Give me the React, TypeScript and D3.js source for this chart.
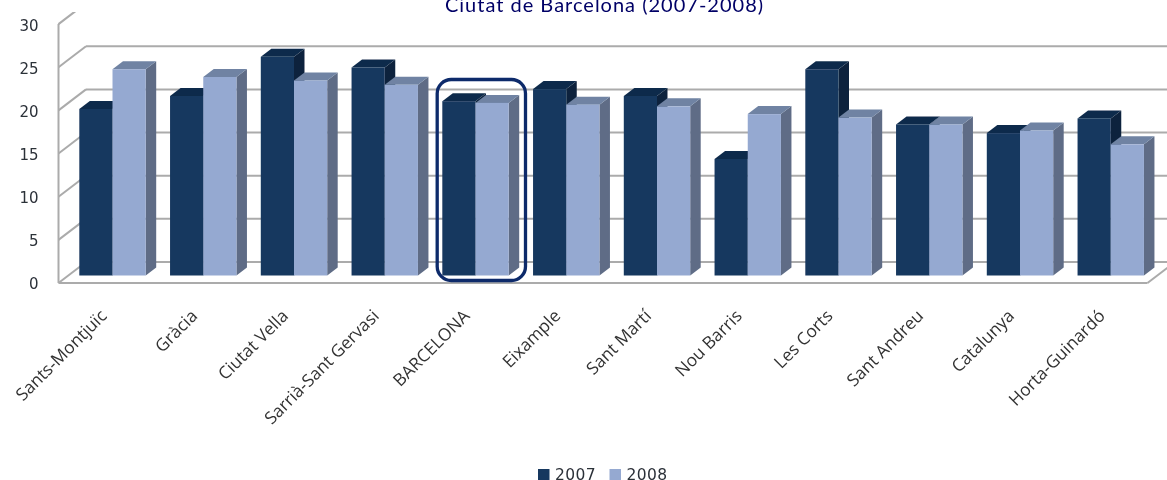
import React from "react";
import * as d3 from "d3";

const categories = ["Sants-Montjuïc","Gràcia","Ciutat Vella","Sarrià-Sant Gervasi","BARCELONA","Eixample","Sant Martí","Nou Barris","Les Corts","Sant Andreu","Catalunya","Horta-Guinardó"];
const values2007 = [19.3,20.8,25.35,24.1,20.2,21.6,20.8,13.5,23.9,17.5,16.5,18.2];
const values2008 = [23.9,23.0,22.6,22.1,20.0,19.8,19.6,18.7,18.3,17.5,16.8,15.2];
const yTicks = [0,5,10,15,20,25,30];
const seriesNames = ["2007","2008"];
const highlighted = "BARCELONA";

const palette = [
  { front: "#17375E", top: "#112B4B", side: "#0F243E" },
  { front: "#95A9D1", top: "#6F83A3", side: "#5E6C86" },
];

const W = 1167, H = 480;
const barW = 33.2;
const depthBar = { dx: 10.5, dy: -8 };
const depthWall = { dx: 27.5, dy: -21 };
const FRONT_X = 58.5, FRONT_Y = 283, RIGHT_X = 1147.5;

const yFront = d3.scaleLinear().domain([0, 30]).range([FRONT_Y, FRONT_Y - 258.9]);
const yLabel = d3.scaleLinear().domain([0, 30]).range([283, 25.6]);
const yBar = d3.scaleLinear().domain([0, 30]).range([275.5, 275.5 - 258.9]);
const xBand = d3.scaleBand<string>().domain(categories).range([79.3, 79.3 + 90.75 * 12]).paddingInner(0).paddingOuter(0);

const poly = (pts: [number, number][]) => d3.line()(pts) + "Z";
const LABEL = "'Open Sans', sans-serif";
const NUM = "'DejaVu Sans', sans-serif";

function Bar({ x, v, c }: { x: number; v: number; c: typeof palette[0] }) {
  const t = yBar(v), b = yBar(0), { dx, dy } = depthBar, r = x + barW;
  return (
    <g>
      <path d={poly([[r, t], [r + dx, t + dy], [r + dx, b + dy], [r, b]])} fill={c.side} />
      <path d={poly([[x, t], [x + dx, t + dy], [r + dx, t + dy], [r, t]])} fill={c.top} />
      <rect x={x} y={t} width={barW} height={b - t} fill={c.front} />
    </g>
  );
}

export default function App() {
  const hx = xBand(highlighted)!;
  return (
    <svg width={W} height={H} viewBox={`0 0 ${W} ${H}`} style={{ position: "absolute", left: 0, top: 0, background: "#fff" }}>
      <defs>
        <filter id="soft" x="-2%" y="-2%" width="104%" height="104%"><feGaussianBlur stdDeviation="0.5" /></filter>
      </defs>
      <g filter="url(#soft)">
        <g stroke="#ABABAB" strokeWidth={2} fill="none">
          {yTicks.map((v) => (
            <g key={v}>
              <line x1={FRONT_X} y1={yFront(v)} x2={FRONT_X + depthWall.dx} y2={yFront(v) + depthWall.dy} />
              {v < 30 && <line x1={FRONT_X + depthWall.dx} y1={yFront(v) + depthWall.dy} x2={W} y2={yFront(v) + depthWall.dy} />}
            </g>
          ))}
          <line x1={FRONT_X} y1={yFront(0)} x2={FRONT_X} y2={yFront(30)} />
          <line x1={FRONT_X} y1={FRONT_Y} x2={RIGHT_X} y2={FRONT_Y} />
          <line x1={RIGHT_X} y1={FRONT_Y} x2={RIGHT_X + 27.5} y2={FRONT_Y - 21} />
        </g>
        <rect x={0} y={0} width={W} height={12} fill="#fff" />
        {categories.map((cat, i) => {
          const x0 = xBand(cat)!;
          return (
            <g key={cat}>
              <Bar x={x0} v={values2007[i]} c={palette[0]} />
              <Bar x={x0 + barW} v={values2008[i]} c={palette[1]} />
            </g>
          );
        })}
        <rect x={hx - 5.1} y={79.5} width={88.3} height={201} rx={14} fill="none" stroke="#0B2A6B" strokeWidth={3.3} />
        <text x={604.5} y={11.5} textAnchor="middle" fontFamily="Lato, sans-serif" fontSize={20} letterSpacing={1} fill="#000066">Ciutat de Barcelona (2007-2008)</text>
        {yTicks.map((v) => (
          <text key={v} x={38.5} y={yLabel(v) + 5.5} textAnchor="end" fontFamily={NUM} fontSize={15} fill="#2b3038">{v}</text>
        ))}
        {categories.map((cat) => (
          <text key={cat} transform={`translate(${xBand(cat)! + 28.5},${317}) rotate(-45)`} textAnchor="end" fontFamily={LABEL} fontSize={17.3} fill="#333">{cat}</text>
        ))}
        {seriesNames.map((s, i) => (
          <g key={s} transform={`translate(${538 + i * 71.5},0)`}>
            <rect x={0} y={469} width={11.5} height={11} fill={palette[i].front} />
            <text x={17} y={479.5} fontFamily={NUM} fontSize={15.5} letterSpacing={0.4} fill="#2b3038">{s}</text>
          </g>
        ))}
      </g>
    </svg>
  );
}
